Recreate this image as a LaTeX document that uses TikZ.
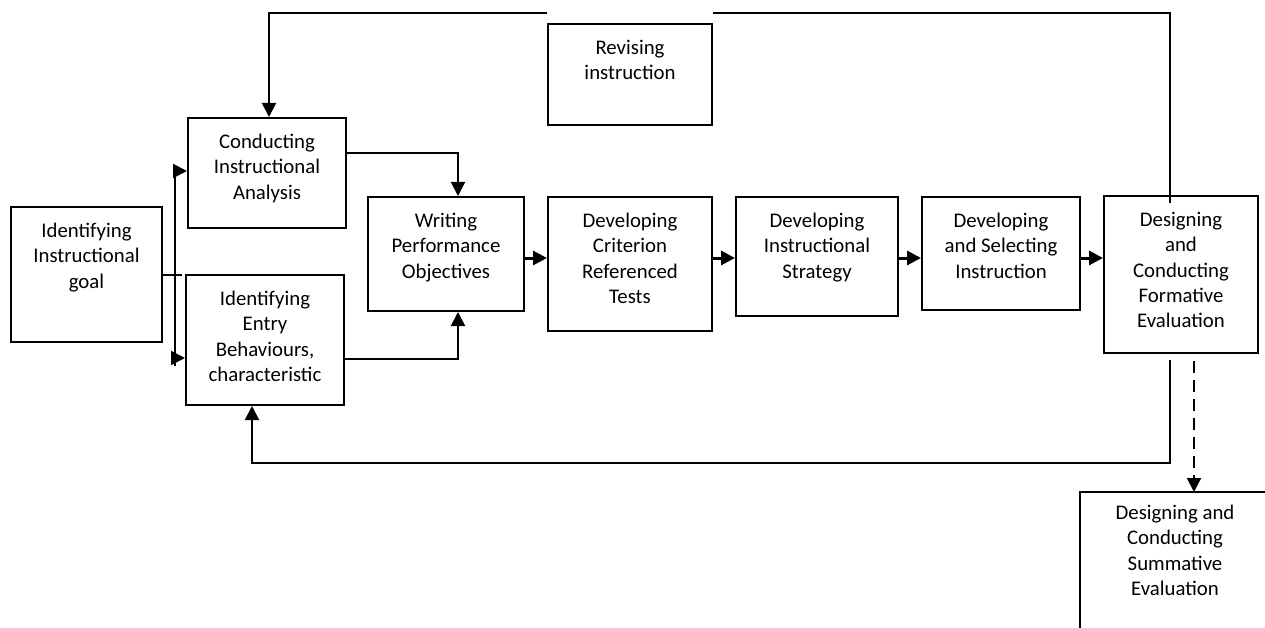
\documentclass[tikz,border=0pt]{standalone}
\usepackage{fontspec}
\setmainfont{Carlito}
\usetikzlibrary{arrows.meta,calc}
\tikzset{
  box/.style={draw, line width=2pt, inner sep=0pt, anchor=north west},
  txt/.style={align=center, inner sep=0pt, anchor=north, font=\fontsize{20.8}{25.3}\selectfont},
  conn/.style={line width=2pt},
  arr/.style={conn, -{Triangle[length=14pt,width=14pt]}},
  arrb/.style={line width=3pt, -{Triangle[length=14pt,width=14pt]}},
}
\newcommand\mybox[6]{%
  \node[box, minimum width=#4pt, minimum height=#5pt] (#1) at (#2,#3) {};
  \node[txt] (#1t) at ([yshift=-17pt]#1.north) {#6};}
\begin{document}
\begin{tikzpicture}[x=1pt,y=-1pt]
\useasboundingbox (0,0) rectangle (1265,628);
\mybox{goal}{10}{206}{151}{135}{Identifying\\Instructional\\goal}
\mybox{analysis}{187}{117}{158}{110}{Conducting\\Instructional\\Analysis}
\mybox{entry}{185}{274}{158}{130}{Identifying\\Entry\\Behaviours,\\characteristic}
\mybox{writing}{367}{196}{156}{114}{Writing\\Performance\\Objectives}
\mybox{tests}{547}{196}{164}{134}{Developing\\Criterion\\Referenced\\Tests}
\mybox{strategy}{735}{196}{162}{119}{Developing\\Instructional\\Strategy}
\mybox{selecting}{921}{196}{158}{113}{Developing\\and Selecting\\Instruction}
\mybox{formative}{1103}{195}{154}{157}{Designing\\and\\Conducting\\Formative\\Evaluation}
\mybox{revising}{547}{23}{164}{101}{Revising\\instruction}
% summative (clipped by the page edge)
\node[inner sep=0pt, minimum width=200pt, minimum height=140pt, anchor=north west] (summ) at (1080,492) {};
\draw[line width=2pt] (summ.north east) -- (summ.north west) -- (summ.south west);
\node[txt] (summt) at ([yshift=-13pt]1175,492) {Designing and\\Conducting\\Summative\\Evaluation};
% coordinates
\coordinate (b1) at (175,171);
\coordinate (b2) at (175,358);
\coordinate (row) at (0,258);
\coordinate (top) at (0,13);
\coordinate (low) at (0,463);
% goal to bracket
\draw[conn] (goal.east) -- ++(19,0);
\draw[conn] (b1) -- ([yshift=-8pt]b2);
\draw[arr] (b1) -- (b1 -| analysis.west);
\draw[arr] (b2) -- (b2 -| entry.west);
% into writing
\draw[arr] ([yshift=20pt]analysis.east) -| ([xshift=12pt]writing.north);
\draw[arr] ([yshift=-19pt]entry.east) -| ([xshift=12pt]writing.south);
% main chain
\draw[arrb] (writing.east |- row) -- (tests.west |- row);
\draw[arrb] (tests.east |- row) -- (strategy.west |- row);
\draw[arrb] (strategy.east |- row) -- (selecting.west |- row);
\draw[arrb] (selecting.east |- row) -- (formative.west |- row);
% top feedback
\draw[arr] (revising.north west |- top) -| ([xshift=2pt]analysis.north);
\draw[conn] ([xshift=-11pt,yshift=-8pt]formative.north) |- (revising.north east |- top);
% bottom loop
\draw[arr] ([xshift=-11pt,yshift=-6pt]formative.south) |- ([xshift=-13pt]entry.south |- low) -- ([xshift=-13pt]entry.south);
% dashed to summative
\draw[arr, dash pattern=on 12pt off 7pt] ([xshift=13pt,yshift=-7pt]formative.south) -- ([xshift=13pt]formative.south |- summ.north);
\end{tikzpicture}
\end{document}
